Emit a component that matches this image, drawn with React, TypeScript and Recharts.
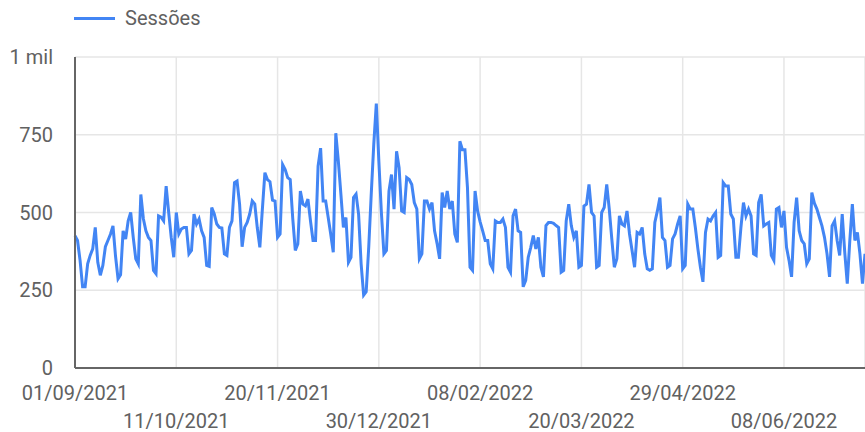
import { CartesianGrid, Line, LineChart, XAxis, YAxis } from 'recharts';

// Daily sessions, 01/09/2021 onwards (one value per day)
const sessions = [
  425, 410, 346, 261, 261, 335, 362, 383, 452, 340,
  298, 330, 390, 410, 430, 457, 360, 287, 300, 441,
  415, 473, 500, 420, 351, 335, 558, 480, 441, 420,
  410, 314, 303, 489, 485, 473, 585, 500, 420, 356,
  500, 431, 447, 452, 452, 367, 378, 495, 463, 479,
  441, 420, 330, 327, 516, 495, 463, 452, 450, 367,
  362, 452, 473, 596, 601, 527, 390, 452, 468, 495,
  537, 527, 450, 388, 511, 628, 606, 599, 540, 537,
  420, 431, 654, 638, 612, 606, 480, 378, 399, 569,
  527, 521, 543, 473, 410, 410, 649, 707, 537, 537,
  484, 430, 372, 755, 665, 560, 452, 484, 340, 356,
  548, 559, 495, 335, 234, 245, 388, 560, 720, 850,
  665, 500, 367, 378, 569, 622, 511, 697, 644, 505,
  500, 612, 606, 590, 532, 511, 351, 367, 537, 537,
  511, 532, 441, 400, 351, 564, 516, 569, 511, 537,
  431, 404, 729, 702, 702, 580, 324, 314, 569, 505,
  470, 441, 410, 410, 335, 319, 473, 468, 468, 479,
  452, 324, 308, 489, 511, 441, 436, 261, 282, 356,
  388, 426, 383, 420, 324, 293, 458, 468, 468, 465,
  458, 452, 308, 314, 473, 527, 458, 420, 441, 324,
  330, 521, 527, 590, 500, 489, 324, 330, 500, 516,
  590, 511, 415, 324, 351, 489, 463, 457, 505, 431,
  378, 324, 436, 431, 452, 367, 319, 314, 319, 468,
  505, 548, 420, 410, 324, 330, 415, 431, 463, 489,
  319, 330, 527, 511, 511, 452, 383, 324, 277, 436,
  479, 473, 489, 500, 356, 362, 596, 585, 585, 495,
  479, 356, 356, 452, 532, 489, 511, 489, 367, 362,
  532, 558, 457, 463, 468, 362, 346, 511, 516, 452,
  505, 388, 346, 293, 468, 548, 441, 410, 399, 335,
  351, 564, 530, 511, 484, 457, 420, 367, 293, 457,
  473, 410, 362, 495, 372, 271, 410, 527, 410, 436,
  367, 271, 367,
];

const tickDays = [0, 40, 80, 120, 160, 200, 240, 280];
const tickLabels = [
  '01/09/2021',
  '11/10/2021',
  '20/11/2021',
  '30/12/2021',
  '08/02/2022',
  '20/03/2022',
  '29/04/2022',
  '08/06/2022',
];
const yTicks = [0, 250, 500, 750, 1000];

const data = sessions.map((v, i) => ({ day: i, sessions: v }));

const TEXT = '#616161';
const FONT = 'Roboto, "Noto Sans", sans-serif';

// two-row date labels, alternating
function DateTick({ x, y, payload }: any) {
  const i = tickDays.indexOf(payload.value);
  const row = i % 2;
  return (
    <text
      x={x}
      y={y + (row === 0 ? 32 : 60)}
      textAnchor="middle"
      fill={TEXT}
      fontSize={20}
      fontFamily={FONT}
    >
      {tickLabels[i]}
    </text>
  );
}

export default function App() {
  return (
    <div style={{ position: 'relative', width: 865, height: 432, fontFamily: FONT }}>
      {/* chart fills the whole window */}
      <style>{'body { margin: 0; }'}</style>
      <div
        style={{
          position: 'absolute',
          left: 74,
          top: 8,
          height: 20,
          display: 'flex',
          alignItems: 'center',
          color: TEXT,
          fontSize: 20,
          lineHeight: '20px',
          zIndex: 1,
        }}
      >
        <span style={{ width: 41, height: 3, background: '#4285f4', marginRight: 10 }} />
        <span>Sessões</span>
      </div>
      <LineChart
        width={865}
        height={432}
        data={data}
        margin={{ top: 57, right: 0, left: 0, bottom: 0 }}
      >
        <CartesianGrid stroke="#e6e6e6" strokeWidth={1.5} />
        <XAxis
          dataKey="day"
          type="number"
          domain={[0, 312]}
          ticks={tickDays}
          interval={0}
          tick={<DateTick />}
          tickLine={false}
          tickSize={0}
          tickMargin={0}
          height={64}
          axisLine={{ stroke: '#666', strokeWidth: 2 }}
        />
        <YAxis
          domain={[0, 1000]}
          ticks={yTicks}
          width={75}
          tickLine={false}
          tickSize={0}
          tickMargin={22}
          axisLine={{ stroke: '#666', strokeWidth: 2 }}
          tick={{ fill: TEXT, fontSize: 20, fontFamily: FONT }}
          tickFormatter={(v: number) => (v === 1000 ? '1 mil' : String(v))}
        />
        <Line
          type="linear"
          dataKey="sessions"
          stroke="#4285f4"
          strokeWidth={3}
          dot={false}
          isAnimationActive={false}
        />
      </LineChart>
    </div>
  );
}
